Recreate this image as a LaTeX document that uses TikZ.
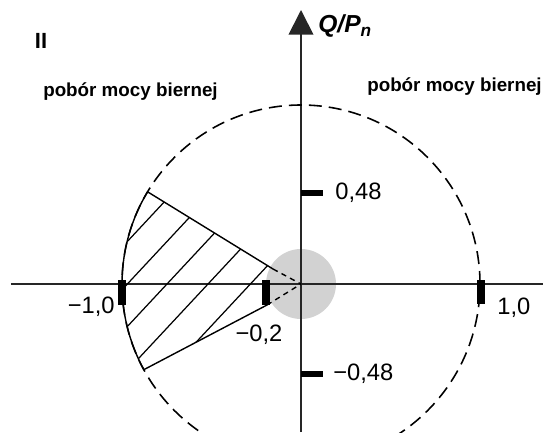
\documentclass[tikz,border=0pt]{standalone}
\usepackage{fontspec}
\setmainfont{Liberation Sans}
\usetikzlibrary{arrows.meta, positioning}

\begin{document}
\begin{tikzpicture}[
  x=0.02cm, y=0.02cm,
  axis/.style={line width=1pt, draw=black!85},
  ring/.style={line width=0.9pt, dash pattern=on 7.4pt off 4pt},
  edge/.style={line width=0.8pt},
  hatch/.style={line width=0.7pt},
  tickbar/.style={line width=4pt},
  ticklbl/.style={font=\fontsize{13.5}{15}\selectfont, inner sep=0pt},
  zone/.style={font=\fontsize{10.7}{13}\selectfont\bfseries, inner sep=0pt}
]
\useasboundingbox (-301,-148) rectangle (242,284);

%% Grey zone round the origin
\fill[gray!35] (0,0) circle (35);

%% Axes
\coordinate (O)  at (0,0);
\coordinate (xl) at (-290,0);
\coordinate (xr) at (242,0);
\coordinate (yb) at (0,-148);
\coordinate (yt) at (0,274);
\draw[axis] (xl) -- (xr);
\draw[axis, -{Triangle[length=14pt, width=14pt]}] (yb) -- (yt);

%% Dashed circle S/Pn = 1
\draw[ring] (O) circle (179);

%% Hatched region
\coordinate (ua) at (149:179);
\coordinate (la) at (208.6:179);
\coordinate (ui) at (-28,15);
\coordinate (li) at (-34,-21);
\begin{scope}
  \clip (ua) arc[start angle=149, end angle=208.6, radius=179]
        -- (li) -- (ui) -- cycle;
  \foreach \d in {156,127,98,68,37}
    \draw[hatch] ([shift={(137:\d)}]227:250) -- ([shift={(137:\d)}]47:250);
\end{scope}
\draw[edge] (ua) arc[start angle=149, end angle=208.6, radius=179];
\draw[edge] (ua) -- (ui);
\draw[edge] (la) -- (li);
\draw[edge, dash pattern=on 3pt off 2.5pt] (ui) -- (O);
\draw[edge, dash pattern=on 3pt off 2.5pt] (li) -- (O);

%% Tick bars
\draw[tickbar] (-179,4) -- (-179,-21);
\draw[tickbar] (-35,4)  -- (-35,-21);
\draw[tickbar] (180,4)  -- (180,-20);
\draw[line width=3pt] (0,91)  -- (22,91);
\draw[line width=3pt] (0,-90) -- (22,-90);

%% Tick labels
\node[ticklbl, anchor=west] (lp48) at (34,91)    {0,48};
\node[ticklbl, anchor=west] (lm48) at (32,-90)   {−0,48};
\node[ticklbl, anchor=east] (lm1)  at (-186,-23) {−1,0};
\node[ticklbl]              (lm02) at (-42,-51)  {−0,2};
\node[ticklbl, anchor=west] (lp1)  at (196,-24)  {1,0};

%% Quadrant and axis labels
\node[font=\fontsize{12.5}{15}\selectfont\bfseries, inner sep=0pt] (quad) at (-260,243) {II};
\node[font=\fontsize{14}{16}\selectfont\bfseries\itshape, inner sep=0pt,
      anchor=base west] (qlbl) at (17,251) {Q/P\textsubscript{n}};
\node[zone] (zleft)  at (-170.5,192.5) {pobór mocy biernej};
\node[zone] (zright) at (153.5,197.5)  {pobór mocy biernej};

\end{tikzpicture}
\end{document}
